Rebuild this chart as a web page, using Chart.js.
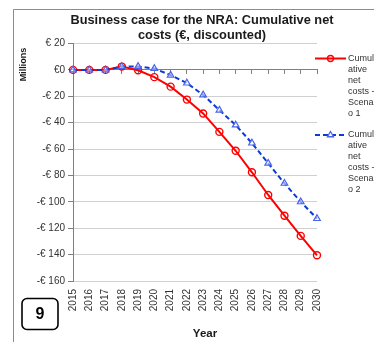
<!DOCTYPE html>
<html>
<head>
<meta charset="utf-8">
<script src="https://cdn.jsdelivr.net/npm/chart.js@4.4.1/dist/chart.umd.min.js"></script>
<style>
  html, body { margin: 0; padding: 0; background: #fff; }
  canvas { display: block; }
</style>
</head>
<body>
<canvas id="chart" width="374" height="342"></canvas>
<script>
// Chart data (millions of euro)
const years = ['2015', '2016', '2017', '2018', '2019', '2020', '2021', '2022',
               '2023', '2024', '2025', '2026', '2027', '2028', '2029', '2030'];
const scenario1 = [0, 0, 0, 2.5, -0.3, -5.5, -12.7, -22.5, -33, -47, -61.3, -77.6, -94.8, -110.5, -125.8, -140.5];
const scenario2 = [0, 0, 0, 2.5, 2.6, 1, -4, -10, -19, -30.5, -41.8, -55.5, -70.8, -86, -100, -112.7];
const yTickValues = [20, 0, -20, -40, -60, -80, -100, -120, -140, -160];
const yTickLabels = ['€ 20', '€0', '-€ 20', '-€ 40', '-€ 60', '-€ 80', '-€ 100', '-€ 120', '-€ 140', '-€ 160'];
const titleLines = ['Business case for the NRA: Cumulative net', 'costs (€, discounted)'];
const seriesNames = ['Cumulative net costs - Scenario 1', 'Cumulative net costs - Scenario 2'];
// the legend box is very narrow, so the names wrap like this
const legendLines1 = ['Cumul', 'ative', 'net', 'costs -', 'Scenari', 'o 1'];
const legendLines2 = ['Cumul', 'ative', 'net', 'costs -', 'Scenari', 'o 2'];
const yUnitLabel = 'Millions';
const xAxisLabel = 'Year';
const pageNumber = '9';

const FONT = "'Liberation Sans', Arial, sans-serif";
const RED = '#ff0000';
const BLUE = '#0b3bd6';
const BLUE_MARK = '#4a63ec';
const AXIS = '#7f7f7f';
const GRID = '#d0d0d0';

function drawTriangle(c, x, y, r) {
  c.beginPath();
  c.moveTo(x, y - r);
  c.lineTo(x + r * 0.87, y + r * 0.5);
  c.lineTo(x - r * 0.87, y + r * 0.5);
  c.closePath();
}

// frame, titles, legend and the page number box
const decor = {
  id: 'decor',
  beforeDraw(chart) {
    const c = chart.ctx;
    c.save();
    c.fillStyle = '#fff';
    c.fillRect(0, 0, chart.width, chart.height);
    c.strokeStyle = '#8c8c8c';
    c.lineWidth = 1;
    c.beginPath();
    c.moveTo(13.5, chart.height);
    c.lineTo(13.5, 9.5);
    c.lineTo(chart.width, 9.5);
    c.stroke();
    c.restore();
  },
  afterDraw(chart) {
    const c = chart.ctx;
    c.save();
    c.fillStyle = '#1a1a1a';
    c.textAlign = 'center';
    c.textBaseline = 'middle';

    // chart title
    c.font = 'bold 12.8px ' + FONT;
    c.fillText(titleLines[0], 202, 20.5);
    c.fillText(titleLines[1], 202, 35);

    // x axis title
    c.font = 'bold 11.5px ' + FONT;
    c.fillText(xAxisLabel, 205, 334);

    // display unit label of the value axis
    c.save();
    c.translate(24, 64.5);
    c.rotate(-Math.PI / 2);
    c.font = 'bold 9px ' + FONT;
    c.fillText(yUnitLabel, 0, 0);
    c.restore();

    // page number box
    c.strokeStyle = '#000';
    c.lineWidth = 1.6;
    const bx = 22, by = 298.5, bw = 36, bh = 31, r = 5;
    c.beginPath();
    c.moveTo(bx + r, by);
    c.arcTo(bx + bw, by, bx + bw, by + bh, r);
    c.arcTo(bx + bw, by + bh, bx, by + bh, r);
    c.arcTo(bx, by + bh, bx, by, r);
    c.arcTo(bx, by, bx + bw, by, r);
    c.closePath();
    c.stroke();
    c.fillStyle = '#000';
    c.font = 'bold 16px ' + FONT;
    c.fillText(pageNumber, bx + bw / 2, by + bh / 2 + 1);

    // legend
    c.font = '9px ' + FONT;
    c.textAlign = 'left';
    const entries = [
      { y: 58.5, lines: legendLines1, color: RED, dash: [] },
      { y: 135, lines: legendLines2, color: BLUE, dash: [5, 3] }
    ];
    entries.forEach((e, i) => {
      c.strokeStyle = e.color;
      c.lineWidth = 2;
      c.setLineDash(e.dash);
      c.beginPath();
      c.moveTo(315, e.y);
      c.lineTo(346, e.y);
      c.stroke();
      c.setLineDash([]);
      c.lineWidth = 1.3;
      if (i === 0) {
        c.strokeStyle = RED;
        c.beginPath();
        c.arc(330.5, e.y, 3, 0, Math.PI * 2);
        c.stroke();
      } else {
        c.strokeStyle = BLUE_MARK;
        c.fillStyle = '#fff';
        drawTriangle(c, 330.5, e.y, 3.5);
        c.fill();
        c.stroke();
      }
      c.fillStyle = '#333';
      e.lines.forEach((t, k) => c.fillText(t, 348, e.y + k * 11));
    });
    c.restore();
  }
};

const ctx = document.getElementById('chart').getContext('2d');
new Chart(ctx, {
  type: 'line',
  data: {
    labels: years,
    datasets: [
      {
        label: seriesNames[0],
        data: scenario1,
        order: 1,
        borderColor: RED,
        borderWidth: 2,
        pointStyle: 'circle',
        pointRadius: 3.5,
        pointBorderWidth: 1.4,
        pointBorderColor: RED,
        pointBackgroundColor: 'rgba(255,255,255,0)',
        tension: 0
      },
      {
        label: seriesNames[1],
        data: scenario2,
        order: 0,
        borderColor: BLUE,
        borderWidth: 2,
        borderDash: [5, 3],
        pointStyle: 'triangle',
        pointRadius: 3.8,
        pointBorderWidth: 1.2,
        pointBorderColor: BLUE_MARK,
        pointBackgroundColor: 'rgba(255,255,255,0.5)',
        tension: 0
      }
    ]
  },
  options: {
    responsive: false,
    animation: false,
    events: [],
    layout: { padding: { left: 13, right: 57, top: 43.5, bottom: 0 } },
    plugins: {
      legend: { display: false },
      title: { display: false },
      tooltip: { enabled: false }
    },
    scales: {
      x: {
        type: 'category',
        position: 'bottom',
        offset: false,
        grid: { display: false, drawTicks: false },
        border: { display: false },
        ticks: {
          autoSkip: false,
          minRotation: 90,
          maxRotation: 90,
          padding: 8,
          color: '#333',
          font: { family: FONT, size: 10 }
        },
        afterFit(scale) { scale.height = 61; }
      },
      // the category axis line crosses the value axis at zero
      xZero: {
        type: 'category',
        axis: 'x',
        position: { y: 0 },
        offset: false,
        grid: { drawOnChartArea: false, tickLength: 4, tickColor: AXIS },
        border: { display: true, color: AXIS, width: 1 },
        ticks: { display: false, autoSkip: false }
      },
      y: {
        min: -160,
        max: 20,
        grid: { color: GRID, tickColor: AXIS, tickLength: 5 },
        border: { display: true, color: AXIS, width: 1 },
        ticks: {
          stepSize: 20,
          padding: 3,
          color: '#333',
          font: { family: FONT, size: 10 },
          callback(value) {
            const i = yTickValues.indexOf(value);
            return i >= 0 ? yTickLabels[i] : '';
          }
        },
        afterFit(scale) { scale.width = 60; }
      }
    }
  },
  plugins: [decor]
});
</script>
</body>
</html>
